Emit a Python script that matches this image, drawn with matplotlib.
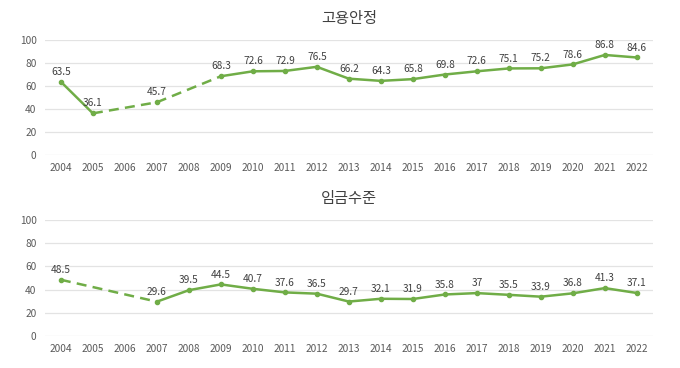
import matplotlib.pyplot as plt
import numpy as np

plt.rcParams['font.family'] = ['Noto Sans CJK KR', 'DejaVu Sans']

years = [str(y) for y in range(2004, 2023)]
# None = no survey that year
employment = [63.5, 36.1, None, 45.7, None, 68.3, 72.6, 72.9, 76.5, 66.2, 64.3,
              65.8, 69.8, 72.6, 75.1, 75.2, 78.6, 86.8, 84.6]
wage = [48.5, None, None, 29.6, 39.5, 44.5, 40.7, 37.6, 36.5, 29.7, 32.1,
        31.9, 35.8, 37, 35.5, 33.9, 36.8, 41.3, 37.1]
titles = ['고용안정', '임금수준']

green = '#70AD47'
fig = plt.figure(figsize=(6.8, 3.68), dpi=100)
axes = [fig.add_axes([0.066, 0.579, 0.894, 0.313]),
        fig.add_axes([0.066, 0.087, 0.894, 0.315])]

for ax, vals, title in zip(axes, [employment, wage], titles):
    x = np.arange(len(years))
    y = np.array([np.nan if v is None else v for v in vals])
    ax.plot(x, y, color=green, lw=1.8, marker='o', ms=3, zorder=3)
    # dashed lines bridging missing years
    idx = [i for i, v in enumerate(vals) if v is not None]
    for a, b in zip(idx[:-1], idx[1:]):
        if b - a > 1:
            ax.plot([a, b], [vals[a], vals[b]], color=green, lw=1.8,
                    ls=(0, (4, 2.5)), zorder=3)
    for i in idx:
        lab = ('%g' % vals[i])
        ax.annotate(lab, (i, vals[i]), xytext=(0, 3.5), textcoords='offset points',
                    ha='center', va='bottom', fontsize=7.3, color='#404040')
    ax.set_xlim(-0.5, len(years) - 0.5)
    ax.set_ylim(0, 100)
    ax.set_yticks([0, 20, 40, 60, 80, 100])
    ax.set_xticks(x)
    ax.set_xticklabels(years)
    ax.grid(axis='y', color='#E3E3E3', lw=0.9)
    ax.set_axisbelow(True)
    for s in ax.spines.values():
        s.set_visible(False)
    ax.tick_params(length=0, labelsize=7.3, labelcolor='#595959', pad=6)
    ax.set_title(title, fontsize=11, color='#404040', pad=12)

plt.savefig('out.png')
